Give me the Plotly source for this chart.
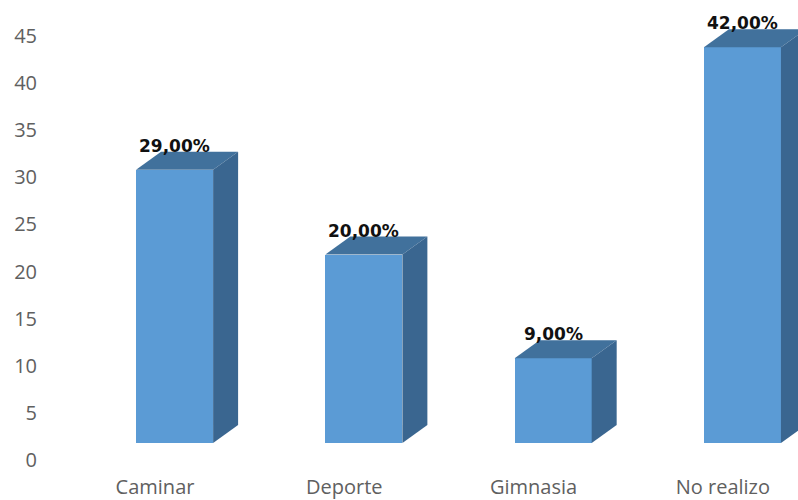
import plotly.graph_objects as go

# Activity categories and their shares (percent)
categories = ["Caminar", "Deporte", "Gimnasia", "No realizo"]
values = [29, 20, 9, 42]
y_ticks = [0, 5, 10, 15, 20, 25, 30, 35, 40, 45]

FRONT = "#5B9BD5"
TOP = "#41719C"
SIDE = "#3A6690"

BAR_OFFSET = -0.10   # bar left edge relative to category position
BAR_WIDTH = 0.407
DEPTH_X = 0.132      # extrusion in x units
DEPTH_Y = 1.91       # extrusion in y units

fig = go.Figure()

# Front faces of the columns, on the floor axis (y2)
fig.add_trace(go.Bar(
    x=list(range(len(categories))),
    y=values,
    offset=BAR_OFFSET,
    width=BAR_WIDTH,
    marker=dict(color=FRONT, line=dict(width=0)),
    yaxis="y2",
    hoverinfo="skip",
    showlegend=False,
))

# Invisible trace to carry the visible value axis
fig.add_trace(go.Scatter(x=[0], y=[0], mode="markers",
                         marker=dict(opacity=0), hoverinfo="skip",
                         showlegend=False))

shapes = []
annotations = []
for i, v in enumerate(values):
    x0 = i + BAR_OFFSET
    x1 = x0 + BAR_WIDTH
    # top face
    shapes.append(dict(
        type="path", xref="x", yref="y2",
        path=f"M {x0},{v} L {x1},{v} L {x1 + DEPTH_X},{v + DEPTH_Y} "
             f"L {x0 + DEPTH_X},{v + DEPTH_Y} Z",
        fillcolor=TOP, line=dict(width=0), layer="above",
    ))
    # side face
    shapes.append(dict(
        type="path", xref="x", yref="y2",
        path=f"M {x1},0 L {x1},{v} L {x1 + DEPTH_X},{v + DEPTH_Y} "
             f"L {x1 + DEPTH_X},{DEPTH_Y} Z",
        fillcolor=SIDE, line=dict(width=0), layer="above",
    ))
    annotations.append(dict(
        x=(x0 + x1) / 2, y=v, xref="x", yref="y2",
        text="<b>" + f"{v:.2f}".replace(".", ",") + "%</b>",
        showarrow=False, yshift=24,
        font=dict(family="DejaVu Sans", size=17, color="#111111"),
    ))

fig.update_layout(
    width=798, height=500,
    margin=dict(l=42, r=0, t=10, b=30),
    paper_bgcolor="white",
    plot_bgcolor="white",
    font=dict(family="Open Sans", color="#606060", size=20),
    shapes=shapes,
    annotations=annotations,
    bargap=0,
    xaxis=dict(
        range=[-0.597, 3.397],
        tickmode="array",
        tickvals=list(range(len(categories))),
        ticktext=categories,
        showgrid=False, zeroline=False, showline=False,
        ticks="", ticklabelstandoff=3,
        tickfont=dict(size=20, color="#606060"),
    ),
    yaxis=dict(
        range=[-1.061, 47.76],
        tickmode="array",
        tickvals=y_ticks,
        ticktext=[str(t) for t in y_ticks],
        showgrid=False, zeroline=False, showline=False,
        ticks="", ticklabelstandoff=4,
        tickfont=dict(size=20, color="#606060"),
    ),
    yaxis2=dict(
        range=[-2.866, 45.96],
        overlaying="y",
        visible=False,
    ),
)

fig.write_html("out.html")
